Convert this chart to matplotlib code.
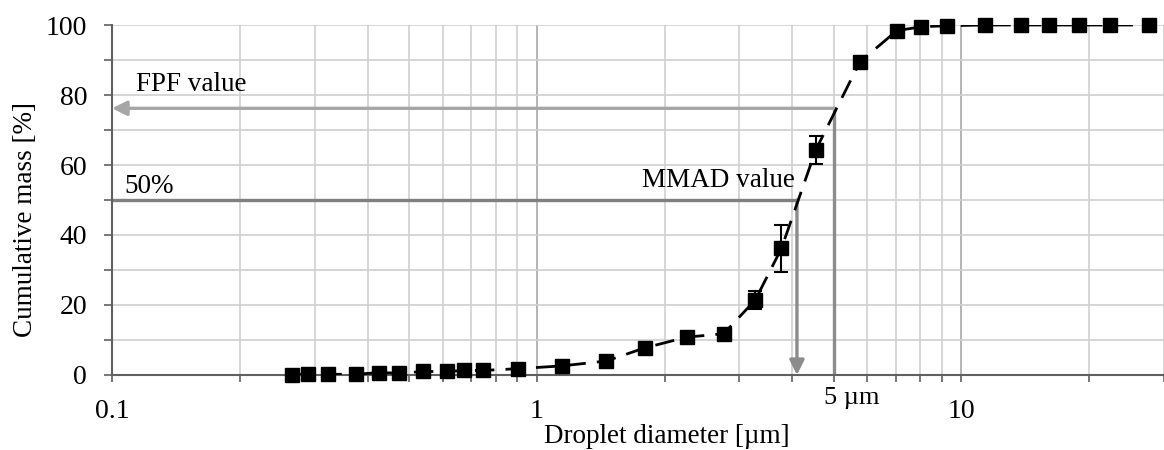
import matplotlib.pyplot as plt
import numpy as np
from matplotlib.ticker import FixedLocator, NullFormatter

plt.rcParams["font.family"] = ["Liberation Serif", "DejaVu Serif"]

# droplet diameter [um] and cumulative mass [%]
diameter = [0.265, 0.290, 0.323, 0.376, 0.425, 0.475, 0.540, 0.616, 0.674, 0.749,
            0.902, 1.148, 1.458, 1.803, 2.254, 2.755, 3.27, 3.77, 4.54, 5.77,
            7.05, 8.05, 9.27, 11.35, 13.8, 16.1, 18.9, 22.4, 27.6]
cum_mass = [0.0, 0.3, 0.2, 0.2, 0.7, 0.5, 1.0, 1.0, 1.3, 1.3,
            1.8, 2.6, 4.0, 7.8, 10.8, 11.8, 21.4, 36.2, 64.3, 89.5,
            98.4, 99.5, 99.8, 100, 100, 100, 100, 100, 100]
cum_err = [0, 0, 0, 0, 0, 0, 0, 0, 0, 0,
           0, 0, 0, 0, 0, 0, 2.6, 6.7, 4.1, 0,
           0, 0, 0, 0, 0, 0, 0, 0, 0]

fpf_value = 76.2
mmad_value = 4.1
cutoff = 5

fig = plt.figure(figsize=(11.64, 4.5), dpi=100)
ax = fig.add_axes([0.0963, 0.1667, 0.9037, 0.7777])
ax.set_xscale("log")
ax.set_xlim(0.1, 30)
ax.set_ylim(0, 100)

# grid
minor_x = [m * 10.0 ** e for e in (-1, 0, 1) for m in range(2, 10) if m * 10.0 ** e <= 30]
ax.xaxis.set_major_locator(FixedLocator([0.1, 1, 10]))
ax.xaxis.set_minor_locator(FixedLocator(minor_x))
ax.xaxis.set_minor_formatter(NullFormatter())
ax.set_xticklabels(["0.1", "1", "10"])
ax.yaxis.set_major_locator(FixedLocator(range(0, 101, 20)))
ax.yaxis.set_minor_locator(FixedLocator(range(10, 100, 20)))
ax.grid(True, which="both", color="#d0d0d0", lw=1.2, zorder=0)
ax.grid(True, which="major", axis="x", color="#a8a8a8", lw=1.2, zorder=0)
ax.set_axisbelow(True)

for s in ("top", "right"):
    ax.spines[s].set_visible(False)
for s in ("left", "bottom"):
    ax.spines[s].set_color("#606060")
    ax.spines[s].set_linewidth(1.5)

ax.tick_params(axis="both", which="both", color="#606060", width=1.2, labelsize=20)
ax.tick_params(axis="y", which="both", length=6, pad=12)
ax.tick_params(axis="x", which="both", length=5, pad=12)

# annotation lines
gray = "#8c8c8c"
ax.plot([cutoff, cutoff], [0, fpf_value], color=gray, lw=2.4, zorder=2)
ax.annotate("", xy=(0.1, fpf_value), xytext=(cutoff, fpf_value),
            arrowprops=dict(arrowstyle="-|>", color="#a6a6a6", lw=2.4, mutation_scale=22,
                            shrinkA=0, shrinkB=0), zorder=2)
ax.plot([0.1, mmad_value], [50, 50], color="#808080", lw=2.4, zorder=2)
ax.annotate("", xy=(mmad_value, 0), xytext=(mmad_value, 50),
            arrowprops=dict(arrowstyle="-|>", color=gray, lw=2.4, mutation_scale=22,
                            shrinkA=0, shrinkB=0), zorder=2)

# data
ax.errorbar(diameter, cum_mass, yerr=cum_err, fmt="s", color="black", ms=10,
            capsize=5, elinewidth=1.5, capthick=1.5, zorder=4, clip_on=False)
ax.plot(diameter, cum_mass, color="black", lw=2, linestyle=(0, (7, 4)), zorder=3)

# texts
ax.text(0.114, 82.9, "FPF value", fontsize=19.5, va="center", ha="left")
ax.text(0.107, 54, "50%", fontsize=19.5, va="center", ha="left")
ax.text(4.05, 55.7, "MMAD value", fontsize=19.5, va="center", ha="right")
ax.text(4.75, -0.066, "5 µm", fontsize=19, va="center", ha="left",
        transform=ax.get_xaxis_transform())

ax.set_xlabel("Droplet diameter [µm]", fontsize=19.5)
ax.set_ylabel("Cumulative mass [%]", fontsize=19.5)
ax.xaxis.set_label_coords(0.527, -0.14)
ax.yaxis.set_label_coords(-0.07, 0.443)

fig.savefig("out.png", dpi=100)
